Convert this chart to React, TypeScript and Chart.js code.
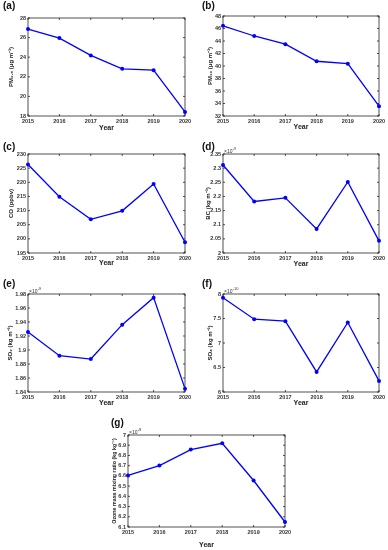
import React, { useEffect, useRef } from 'react';
import { Chart, registerables } from 'chart.js';
Chart.register(...registerables);

const years = ['2015', '2016', '2017', '2018', '2019', '2020'];
const pm25 = [26.87, 25.95, 24.18, 22.81, 22.68, 18.41];
const pm10 = [46.43, 44.8, 43.5, 40.76, 40.38, 33.57];
const co = [226.3, 214.9, 206.9, 209.9, 219.4, 198.8];
const bc = [2.311, 2.182, 2.195, 2.085, 2.251, 2.043];
const so2 = [1.9257, 1.8919, 1.8871, 1.9362, 1.9748, 1.8448];
const so4 = [7.925, 7.486, 7.445, 6.41, 7.418, 6.226];
const ozone = [6.604, 6.701, 6.857, 6.919, 6.555, 6.149];

type Spec = {
  label: string; lx: number; ly: number;
  cl: number; ct: number; cw: number; ch: number;
  L: number; R: number; T: number; B: number;
  yearY: number; titleX: number; titleSize: number;
  values: number[]; min: number; max: number; step: number;
  yTitle: string; exp?: string;
};

const FONT = '"Liberation Sans", Arial, sans-serif';

const specs: Spec[] = [
  { label: '(a)', lx: 3, ly: 0, cl: 0, ct: 0, cw: 194, ch: 140, L: 28, R: 185, T: 18, B: 116, yearY: 127.7, titleX: 11, titleSize: 6,
    values: pm25, min: 18, max: 28, step: 2, yTitle: 'PM\u2082.\u2085 (\u03bcg m\u207b\u00b3)' },
  { label: '(b)', lx: 202, ly: 0, cl: 194, ct: 0, cw: 194, ch: 140, L: 223, R: 379, T: 16, B: 116, yearY: 127.3, titleX: 210, titleSize: 6,
    values: pm10, min: 32, max: 48, step: 2, yTitle: 'PM\u2081\u2080 (\u03bcg m\u207b\u00b3)' },
  { label: '(c)', lx: 3, ly: 141, cl: 0, ct: 135, cw: 194, ch: 140, L: 28, R: 185, T: 154, B: 253, yearY: 263.3, titleX: 11, titleSize: 6,
    values: co, min: 195, max: 230, step: 5, yTitle: 'CO (ppbv)' },
  { label: '(d)', lx: 202, ly: 141, cl: 194, ct: 135, cw: 194, ch: 140, L: 223, R: 379, T: 154, B: 253, yearY: 264, titleX: 208, titleSize: 6,
    values: bc, min: 2, max: 2.35, step: 0.05, yTitle: 'BC (kg m\u207b\u00b3)', exp: '-9' },
  { label: '(e)', lx: 3, ly: 278, cl: 0, ct: 270, cw: 194, ch: 140, L: 28, R: 185, T: 294, B: 392, yearY: 403.5, titleX: 10, titleSize: 6,
    values: so2, min: 1.84, max: 1.98, step: 0.02, yTitle: 'SO\u2082 (kg m\u207b\u00b3)', exp: '-9' },
  { label: '(f)', lx: 202, ly: 278, cl: 194, ct: 270, cw: 194, ch: 140, L: 223, R: 379, T: 294, B: 392, yearY: 403.5, titleX: 210, titleSize: 6,
    values: so4, min: 6, max: 8, step: 0.5, yTitle: 'SO\u2084 (kg m\u207b\u00b3)', exp: '-10' },
  { label: '(g)', lx: 111, ly: 417, cl: 100, ct: 405, cw: 194, ch: 145, L: 128, R: 285, T: 435, B: 527, yearY: 545, titleX: 115, titleSize: 5.3,
    values: ozone, min: 6.1, max: 7, step: 0.1, yTitle: 'Ozone mass mixing ratio (kg kg\u207b\u00b9)', exp: '-8' },
];

const framePlugin = {
  id: 'frame',
  beforeDatasetsDraw(chart: any, _args: any, opts: any) {
    const { ctx, chartArea: a, scales } = chart;
    ctx.save();
    ctx.strokeStyle = '#262626';
    ctx.lineWidth = 0.8;
    ctx.strokeRect(a.left, a.top, a.right - a.left, a.bottom - a.top);
    ctx.beginPath();
    const ys = scales.y;
    ys.ticks.forEach((t: any) => {
      const py = ys.getPixelForValue(t.value);
      ctx.moveTo(a.left, py); ctx.lineTo(a.left + 2, py);
      ctx.moveTo(a.right, py); ctx.lineTo(a.right - 2, py);
    });
    const xs = scales.x;
    xs.ticks.forEach((_t: any, i: number) => {
      const px = xs.getPixelForTick(i);
      ctx.moveTo(px, a.bottom); ctx.lineTo(px, a.bottom - 2);
      ctx.moveTo(px, a.top); ctx.lineTo(px, a.top + 2);
    });
    ctx.stroke();
    if (opts && opts.exp) {
      ctx.fillStyle = '#333';
      ctx.textBaseline = 'alphabetic';
      ctx.textAlign = 'left';
      ctx.font = `5px ${FONT}`;
      const base = '\u00d710';
      const x0 = a.left + 1;
      const y0 = a.top - 1.5;
      ctx.fillText(base, x0, y0);
      const w = ctx.measureText(base).width;
      ctx.font = `4px ${FONT}`;
      ctx.fillText(opts.exp, x0 + w + 0.3, y0 - 2.2);
    }
    ctx.restore();
  },
};

function Panel({ s }: { s: Spec }) {
  const ref = useRef<HTMLCanvasElement | null>(null);
  useEffect(() => {
    if (!ref.current) return;
    const yearFont = 7;
    const titleFont = s.titleSize;
    const pb = s.ct + s.ch - s.yearY - (yearFont * 1.2) / 2;
    const pt = s.titleX - s.cl - (titleFont * 1.2) / 2;
    const tickFont = { family: FONT, size: 5.5, weight: 'bold' as const };
    const chart = new Chart(ref.current, {
      type: 'line',
      data: {
        labels: years,
        datasets: [{
          data: s.values,
          borderColor: '#0000ff',
          backgroundColor: '#0000ff',
          borderWidth: 1.3,
          pointRadius: 2,
          pointBorderWidth: 0,
          pointBackgroundColor: '#0000ff',
          tension: 0,
          clip: false as any,
        }],
      },
      options: {
        responsive: false,
        animation: false,
        devicePixelRatio: 1,
        layout: { padding: { left: 0, top: s.T - s.ct, right: s.cl + s.cw - s.R, bottom: 0 } },
        plugins: {
          legend: { display: false },
          tooltip: { enabled: false },
          frame: { exp: s.exp },
        } as any,
        scales: {
          x: {
            type: 'category',
            offset: false,
            grid: { display: false, drawTicks: false },
            border: { display: false },
            ticks: { font: tickFont, color: '#333', padding: 2, maxRotation: 0, autoSkip: false },
            title: { display: true, text: 'Year', color: '#222', font: { family: FONT, size: yearFont, weight: 'bold' }, padding: { top: 0, bottom: pb } },
            afterFit: (sc: any) => { sc.height = s.ct + s.ch - s.B; },
          },
          y: {
            type: 'linear',
            min: s.min,
            max: s.max,
            grid: { display: false, drawTicks: false },
            border: { display: false },
            ticks: {
              stepSize: s.step,
              font: tickFont,
              color: '#333',
              padding: 2,
              callback: (v: any) => String(Number(Number(v).toFixed(3))),
            },
            title: { display: true, text: s.yTitle, color: '#222', font: { family: FONT, size: titleFont, weight: 'bold' }, padding: { top: pt, bottom: 0 } },
            afterFit: (sc: any) => { sc.width = s.L - s.cl; },
          },
        },
      },
      plugins: [framePlugin],
    });
    return () => chart.destroy();
  }, [s]);
  return (
    <canvas
      ref={ref}
      width={s.cw}
      height={s.ch}
      style={{ position: 'absolute', left: s.cl, top: s.ct, width: s.cw, height: s.ch }}
    />
  );
}

export default function App() {
  return (
    <div style={{ position: 'absolute', left: 0, top: 0, width: 388, height: 550, background: '#fff', overflow: 'hidden' }}>
      {specs.map((s) => (
        <Panel key={s.label} s={s} />
      ))}
      {specs.map((s) => (
        <div
          key={'l' + s.label}
          style={{ position: 'absolute', left: s.lx, top: s.ly, font: `bold 10px ${FONT}`, color: '#111', lineHeight: '12px' }}
        >
          {s.label}
        </div>
      ))}
    </div>
  );
}
